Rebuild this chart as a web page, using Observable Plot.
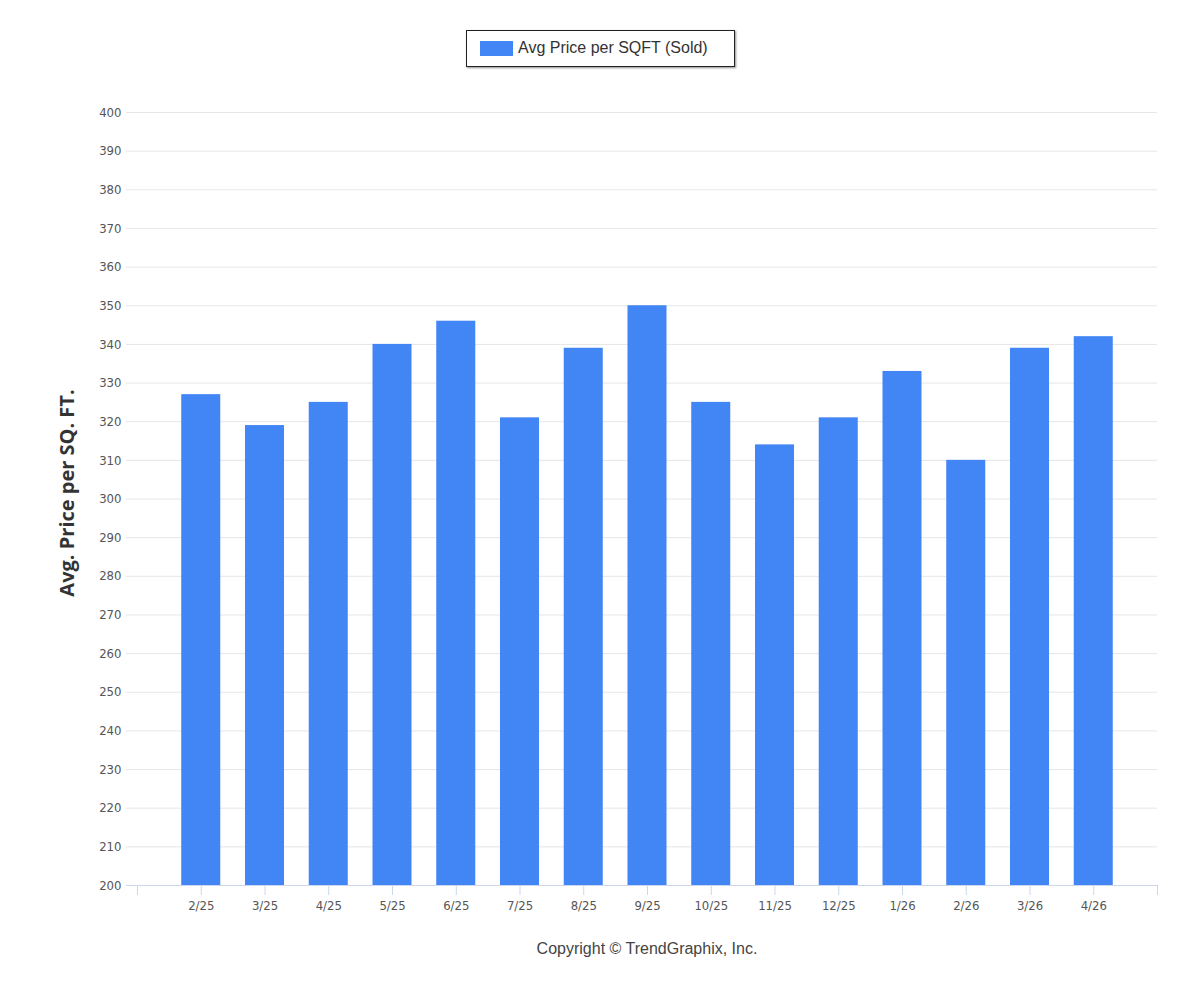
<!DOCTYPE html>
<html>
<head>
<meta charset="utf-8">
<script src="https://cdn.jsdelivr.net/npm/d3@7"></script>
<script src="https://cdn.jsdelivr.net/npm/@observablehq/plot@0.6"></script>
<style>
  html, body { margin: 0; padding: 0; background: #fff; }
  #wrap { position: relative; width: 1200px; height: 1000px; overflow: hidden; }
  #chart { position: absolute; left: 0; top: 0; }
  #legend {
    position: absolute; left: 466px; top: 30px; width: 267px; height: 35px;
    border: 1px solid #222; background: #fff;
    box-shadow: 1px 1px 2px rgba(0,0,0,0.45);
    font-family: "Liberation Sans", Arial, sans-serif; font-size: 16px; color: #333;
  }
  #legend .sw { position: absolute; left: 13px; top: 10px; width: 33px; height: 15px; background: #4285f4; }
  #legend .lb { position: absolute; left: 51px; top: 8px; white-space: nowrap; }
  #credit {
    position: absolute; left: 0; width: 1294px; top: 940px; text-align: center;
    font-family: "Liberation Sans", Arial, sans-serif; font-size: 16px; color: #444;
  }
</style>
</head>
<body>
<div id="wrap">
  <div id="chart"></div>
  <div id="legend"><div class="sw"></div><div class="lb">Avg Price per SQFT (Sold)</div></div>
  <div id="credit">Copyright © TrendGraphix, Inc.</div>
</div>
<script>
const months = ["2/25","3/25","4/25","5/25","6/25","7/25","8/25","9/25","10/25","11/25","12/25","1/26","2/26","3/26","4/26"];
const values = [327, 319, 325, 340, 346, 321, 339, 350, 325, 314, 321, 333, 310, 339, 342];
const yTicks = [200,210,220,230,240,250,260,270,280,290,300,310,320,330,340,350,360,370,380,390,400];
const yTitle = "Avg. Price per SQ. FT.";
const seriesName = "Avg Price per SQFT (Sold)";

const data = months.map((m, i) => ({ i, month: m, value: values[i] }));
const xTicks = d3.range(-1, months.length + 1);
const halfBar = 0.306;
const baseline = yTicks[0];

const chart = Plot.plot({
  width: 1200,
  height: 930,
  marginLeft: 126,
  marginRight: 43,
  marginTop: 112,
  marginBottom: 45,
  style: { fontFamily: "'DejaVu Sans Condensed', 'Liberation Sans Narrow', sans-serif", fontSize: "13px", background: "transparent" },
  x: { type: "linear", domain: [-1, months.length], range: [137, 1157] },
  y: { domain: [yTicks[0], yTicks[yTicks.length - 1]], range: [885, 112] },
  marks: [
    Plot.ruleY(yTicks.slice(1), { stroke: "#e6e6e6", strokeWidth: 1 }),
    Plot.rectY(data, { x1: d => d.i - halfBar, x2: d => d.i + halfBar, y1: baseline, y2: "value", fill: "#4285f4" }),
    Plot.ruleY([baseline], { stroke: "#ccd6eb", strokeWidth: 1 }),
    Plot.axisY({ ticks: yTicks, tickSize: 0, tickPadding: 5, label: null, color: "#555", fontSize: 13 }),
    Plot.axisX({ ticks: xTicks, tickSize: 10, tickPadding: 5, label: null, stroke: "#ccd6eb", color: "#555",
      tickFormat: i => months[i] ?? "", fontSize: 13 }),
    Plot.text([yTitle], { frameAnchor: "left", dx: -59, dy: -6, rotate: -90, textAnchor: "middle",
      fontFamily: "'Open Sans', sans-serif", fontWeight: "bold", fontSize: 20, fill: "#333",
      letterSpacing: "1.5px" })
  ]
});
document.getElementById("chart").appendChild(chart);
</script>
</body>
</html>
